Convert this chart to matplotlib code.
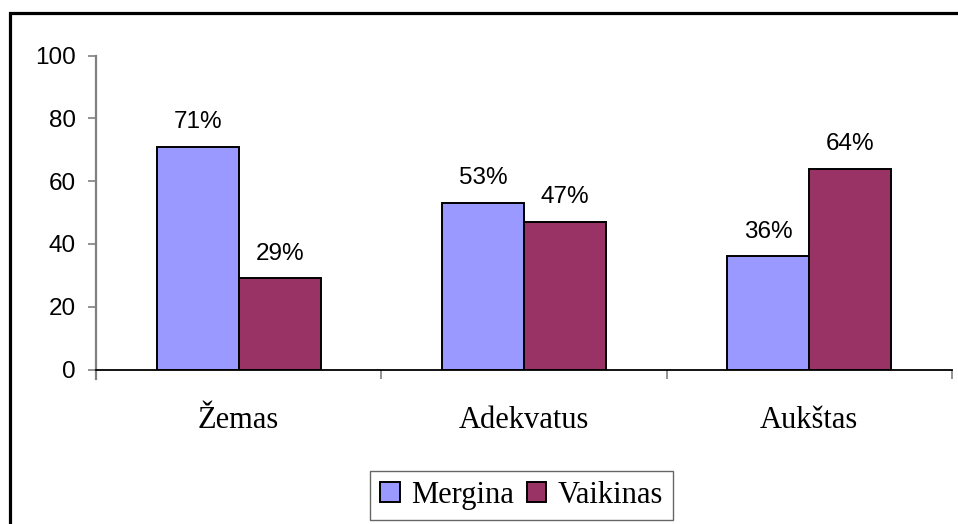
import matplotlib
matplotlib.use("Agg")
import matplotlib.pyplot as plt
import matplotlib.patches as mpatches
import numpy as np

categories = ["Žemas", "Adekvatus", "Aukštas"]
series_names = ["Mergina", "Vaikinas"]
mergina = [71, 53, 36]
vaikinas = [29, 47, 64]
labels_m = ["71%", "53%", "36%"]
labels_v = ["29%", "47%", "64%"]
yticks = [0, 20, 40, 60, 80, 100]
colors = ["#9999FF", "#993366"]

W, H = 958, 524
fig = plt.figure(figsize=(W / 100, H / 100), dpi=100)
ax = fig.add_axes([96 / W, 1 - 369.5 / H, (952 - 96) / W, (369.5 - 55.5) / H])

x = np.arange(len(categories))
bw = 0.287
sans = "Liberation Sans"
serif = "Liberation Serif"

for vals, labs, col, off, name in [(mergina, labels_m, colors[0], -bw / 2, series_names[0]),
                                    (vaikinas, labels_v, colors[1], bw / 2, series_names[1])]:
    bars = ax.bar(x + off, vals, width=bw, color=col, edgecolor="black", linewidth=1.4, label=name, zorder=3)
    for b, lab in zip(bars, labs):
        ax.annotate(lab, (b.get_x() + b.get_width() / 2, b.get_height()), xytext=(0, 13.5),
                    textcoords="offset points", ha="center", va="baseline",
                    fontsize=17.5, family=sans, color="black")

ax.set_xlim(-0.5, len(categories) - 0.5)
ax.set_ylim(0, 100)
ax.set_yticks(yticks)
ax.set_yticklabels([str(t) for t in yticks], family=sans, fontsize=17.5)
ax.tick_params(axis="y", direction="out", length=6, width=1.2, color="#808080", pad=8.5)

ax.set_xticks(x)
ax.set_xticklabels(categories, family=serif, fontsize=22)
ax.tick_params(axis="x", which="major", length=0, pad=26)
ax.set_xticks(np.arange(-0.5, len(categories)), minor=True)
ax.tick_params(axis="x", which="minor", direction="out", length=6.5, width=1.2, color="#808080")

for s in ["top", "right"]:
    ax.spines[s].set_visible(False)
ax.spines["left"].set_color("#808080")
ax.spines["left"].set_linewidth(1.6)
ax.spines["left"].set_bounds(-2.9, 100)
ax.spines["bottom"].set_color("black")
ax.spines["bottom"].set_linewidth(1.3)
ax.spines["bottom"].set_zorder(4)

# outer frame
frame = mpatches.Rectangle((10 / W, -0.1), 1.2, 1 - 13.5 / H + 0.1, transform=fig.transFigure,
                           fill=False, edgecolor="black", linewidth=2.3)
fig.patches.append(frame)

leg = fig.legend(loc="center", bbox_to_anchor=(521.5 / W, 1 - 495.5 / H), ncol=2,
                 prop={"family": serif, "size": 22}, frameon=True, fancybox=False,
                 handlelength=0.64, handleheight=0.64, handletextpad=0.36, columnspacing=0.42,
                 borderpad=0.33, borderaxespad=0)
leg.get_frame().set_edgecolor("#404040")
leg.get_frame().set_linewidth(1.0)

fig.savefig("out.png", dpi=100)
